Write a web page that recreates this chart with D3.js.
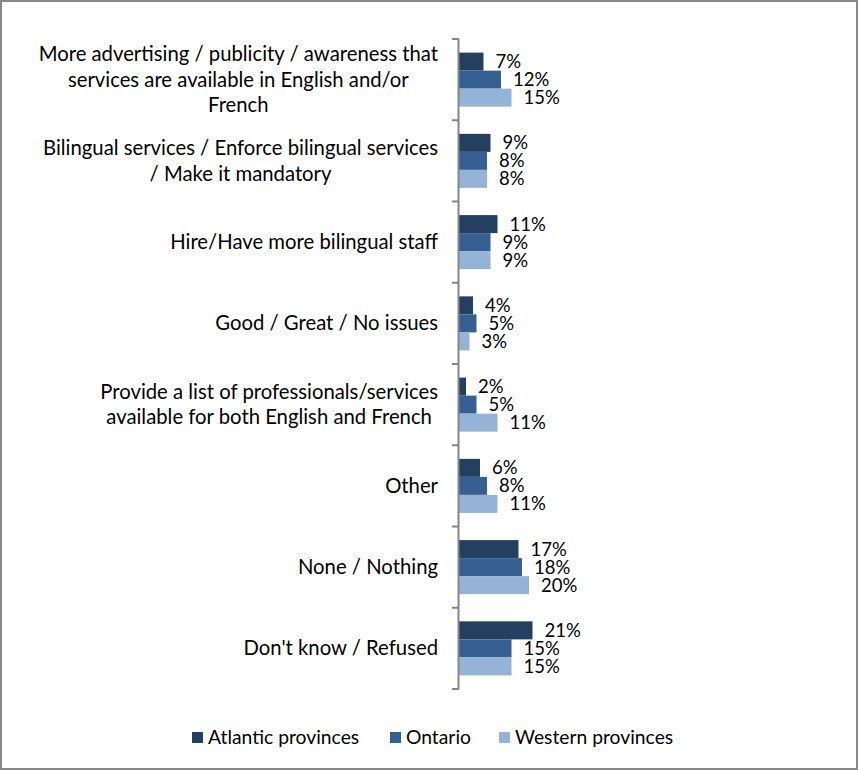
<!DOCTYPE html>
<html>
<head>
<meta charset="utf-8">
<script src="https://cdn.jsdelivr.net/npm/d3@7"></script>
<style>
  body { margin: 0; background: #fff; }
  text { font-family: Lato, "Open Sans", sans-serif; fill: #000; }
</style>
</head>
<body>
<div id="chart"></div>
<script>
'use strict';

// data
var categories = [
	['More advertising / publicity / awareness that', 'services are available in English and/or', 'French'],
	['Bilingual services / Enforce bilingual services', '/ Make it mandatory'],
	['Hire/Have more bilingual staff'],
	['Good / Great / No issues'],
	['Provide a list of professionals/services', 'available for both English and French'],
	['Other'],
	['None / Nothing'],
	["Don't know / Refused"]
];
var seriesNames = ['Atlantic provinces', 'Ontario', 'Western provinces'];
var atlantic = [7, 9, 11, 4, 2, 6, 17, 21];
var ontario = [12, 8, 9, 5, 5, 8, 18, 15];
var western = [15, 8, 9, 3, 11, 11, 20, 15];
var colors = ['#243f60', '#376092', '#95b3d7'];

DrawChart();

function DrawChart() {
	var WIDTH = 858,
		HEIGHT = 770,
		AXIS_X = 459,
		TOP = 39,
		BOTTOM = 689,
		LABEL_FONT = 20.3,
		VALUE_FONT = 18.5,
		LEGEND_FONT = 19.3;

	var series = [atlantic, ontario, western];
	var keys = d3.range(categories.length);

	var svg = d3.select('#chart').append('svg')
		.attr('width', WIDTH)
		.attr('height', HEIGHT);

	// outer border
	svg.append('rect')
		.attr('x', 1)
		.attr('y', 1)
		.attr('width', WIDTH - 2)
		.attr('height', HEIGHT - 2)
		.attr('fill', '#fff')
		.attr('stroke', '#888')
		.attr('stroke-width', 2);

	// scales
	var y = d3.scaleBand()
		.domain(keys)
		.range([TOP, BOTTOM])
		.paddingInner(0.335)
		.paddingOuter(0.1675);

	var ySub = d3.scaleBand()
		.domain(d3.range(series.length))
		.range([0, y.bandwidth()]);

	var x = d3.scaleLinear()
		.domain([0, 25])
		.range([AXIS_X, AXIS_X + 87.5]);

	// bars
	var groups = svg.selectAll('.group')
		.data(keys)
		.enter().append('g')
			.attr('class', 'group')
			.attr('transform', function(d) { return 'translate(0,' + y(d) + ')'; });

	groups.selectAll('rect')
		.data(function(d) { return series.map(function(s, j) { return { s: j, v: s[d] }; }); })
		.enter().append('rect')
			.attr('x', x(0))
			.attr('y', function(d) { return ySub(d.s); })
			.attr('width', function(d) { return x(d.v) - x(0); })
			.attr('height', ySub.bandwidth())
			.attr('fill', function(d) { return colors[d.s]; });

	groups.selectAll('.val')
		.data(function(d) { return series.map(function(s, j) { return { s: j, v: s[d] }; }); })
		.enter().append('text')
			.attr('class', 'val')
			.attr('x', function(d) { return x(d.v) + 12; })
			.attr('y', function(d) { return ySub(d.s) + ySub.bandwidth() / 2; })
			.attr('dy', '0.35em')
			.style('font-size', VALUE_FONT + 'px')
			.text(function(d) { return d.v + '%'; });

	// axis line + ticks between categories
	var step = y.step();
	svg.append('line')
		.attr('x1', AXIS_X - 0.5)
		.attr('x2', AXIS_X - 0.5)
		.attr('y1', TOP)
		.attr('y2', BOTTOM)
		.attr('stroke', '#868686')
		.attr('stroke-width', 2);

	svg.selectAll('.tick')
		.data(d3.range(categories.length + 1))
		.enter().append('line')
			.attr('class', 'tick')
			.attr('x1', AXIS_X - 7)
			.attr('x2', AXIS_X)
			.attr('y1', function(i) { return TOP + i * step; })
			.attr('y2', function(i) { return TOP + i * step; })
			.attr('stroke', '#868686')
			.attr('stroke-width', 2);

	// category labels, centred block with right edge at 438
	var LINE = 25.5;
	keys.forEach(function(k) {
		var lines = categories[k];
		var g = svg.append('g');
		var cy = y(k) + y.bandwidth() / 2;
		var texts = g.selectAll('text')
			.data(lines)
			.enter().append('text')
				.attr('y', function(d, i) { return cy + (i - (lines.length - 1) / 2) * LINE; })
				.attr('dy', '0.35em')
				.attr('text-anchor', 'middle')
				.style('font-size', LABEL_FONT + 'px')
				.text(function(d) { return d; });
		var w = d3.max(texts.nodes(), function(n) { return n.getComputedTextLength(); });
		texts.attr('x', 438 - w / 2);
	});

	// legend
	var legendX = [192, 390, 499];
	var legend = svg.selectAll('.legend')
		.data(seriesNames)
		.enter().append('g')
			.attr('class', 'legend')
			.attr('transform', function(d, i) { return 'translate(' + legendX[i] + ',732)'; });

	legend.append('rect')
		.attr('width', 11)
		.attr('height', 11)
		.attr('fill', function(d, i) { return colors[i]; });

	legend.append('text')
		.attr('x', 16)
		.attr('y', 5.5)
		.attr('dy', '0.35em')
		.style('font-size', LEGEND_FONT + 'px')
		.text(function(d) { return d; });
}
</script>
</body>
</html>
